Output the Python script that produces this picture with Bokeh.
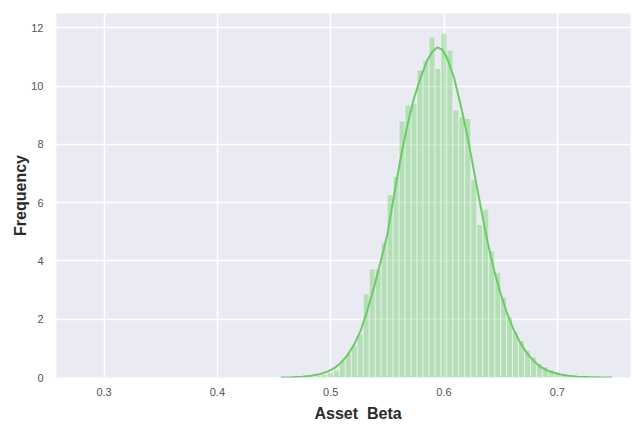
import numpy as np
from bokeh.plotting import figure
from bokeh.models import FixedTicker, ColumnDataSource, Range1d, Title
from bokeh.embed import file_html
from bokeh.resources import INLINE

# ---- data ----
bin_start = 0.4708
bin_width = 0.00527
frequency = [0.01, 0.02, 0.03, 0.06, 0.10, 0.17,
             0.25, 0.59, 0.82, 1.10, 1.50, 2.87, 3.72, 3.72, 4.63, 6.28,
             6.90, 8.80, 9.35, 9.41, 10.55, 10.89, 11.68, 10.60, 11.80, 11.23,
             9.18, 8.95, 8.89, 6.79, 5.25, 5.77, 4.34, 3.60, 2.75, 2.07,
             1.56, 1.27, 0.93, 0.70, 0.48, 0.37,
             0.26, 0.18, 0.12, 0.08, 0.05, 0.03, 0.02, 0.01]

kde_x = [0.456, 0.465, 0.475, 0.483, 0.491, 0.4971, 0.5029, 0.5088, 0.5147,
         0.5206, 0.5265, 0.5323, 0.5382, 0.5441, 0.55, 0.5559, 0.5618, 0.5676,
         0.5735, 0.5794, 0.5853, 0.5897, 0.5941, 0.5985, 0.6029, 0.6088,
         0.6147, 0.6206, 0.6265, 0.6324, 0.6382, 0.6441, 0.65, 0.6559, 0.6618,
         0.6676, 0.6735, 0.6794, 0.6853, 0.6912, 0.6971, 0.703, 0.71, 0.718,
         0.727, 0.737, 0.748]
kde_y = [0.0, 0.01, 0.03, 0.06, 0.12, 0.2, 0.31, 0.5, 0.76, 1.12, 1.61, 2.3,
         3.09, 3.98, 4.91, 6.25, 7.53, 8.65, 9.58, 10.3, 10.89, 11.18, 11.33,
         11.25, 10.94, 10.3, 9.35, 8.3, 7.08, 5.85, 4.69, 3.7, 2.87, 2.18,
         1.61, 1.17, 0.82, 0.56, 0.36, 0.24, 0.16, 0.1, 0.06, 0.03, 0.015,
         0.005, 0.0]

x_ticks = [0.3, 0.4, 0.5, 0.6, 0.7]
y_ticks = [0, 2, 4, 6, 8, 10, 12]
x_label = "Asset\u00a0 Beta"
y_label = "Frequency"

# ---- figure ----
green = "#6ACC64"
bg = "#EAEAF2"
font = "Liberation Sans"

n = len(frequency)
left = bin_start + bin_width * np.arange(n)
right = left + bin_width
src = ColumnDataSource(dict(left=left, right=right, top=frequency,
                            bottom=np.zeros(n)))

p = figure(width=631, height=426, output_backend="svg", toolbar_location=None,
           x_range=Range1d(0.258, 0.7646), y_range=Range1d(0, 12.49),
           min_border_left=56, min_border_right=1, min_border_top=13,
           min_border_bottom=49)
p.background_fill_color = bg
p.border_fill_color = "white"
p.outline_line_color = None

p.quad(left="left", right="right", top="top", bottom="bottom", source=src,
       fill_color=green, fill_alpha=0.4, line_color="white", line_alpha=0.45,
       line_width=1)
p.line(kde_x, kde_y, line_color=green, line_width=2)

p.xaxis.ticker = FixedTicker(ticks=x_ticks)
p.yaxis.ticker = FixedTicker(ticks=y_ticks)
p.xaxis.major_label_overrides = {t: f"{t:.1f}" for t in x_ticks}

for ax in (p.xaxis, p.yaxis):
    ax.axis_line_color = None
    ax.major_tick_line_color = None
    ax.minor_tick_line_color = None
    ax.major_label_text_font = font
    ax.major_label_text_font_size = "11px"
    ax.major_label_text_color = "#555555"

p.xaxis.major_label_standoff = 4
p.yaxis.major_label_standoff = 7

# axis titles (the reference's x title sits a little right of centre)
p.add_layout(Title(text=x_label, align="left", offset=258, standoff=8,
                   text_font=font, text_font_size="16px",
                   text_font_style="bold", text_color="#2b2b2b"), "below")
p.add_layout(Title(text=y_label, align="center", offset=-13, standoff=0,
                   text_font=font, text_font_size="16px",
                   text_font_style="bold", text_color="#2b2b2b"), "left")

p.grid.grid_line_color = "white"
p.grid.grid_line_width = 1.5
p.xgrid.ticker = FixedTicker(ticks=x_ticks)
p.ygrid.ticker = FixedTicker(ticks=y_ticks)

open("out.html", "w").write(file_html(p, INLINE))
